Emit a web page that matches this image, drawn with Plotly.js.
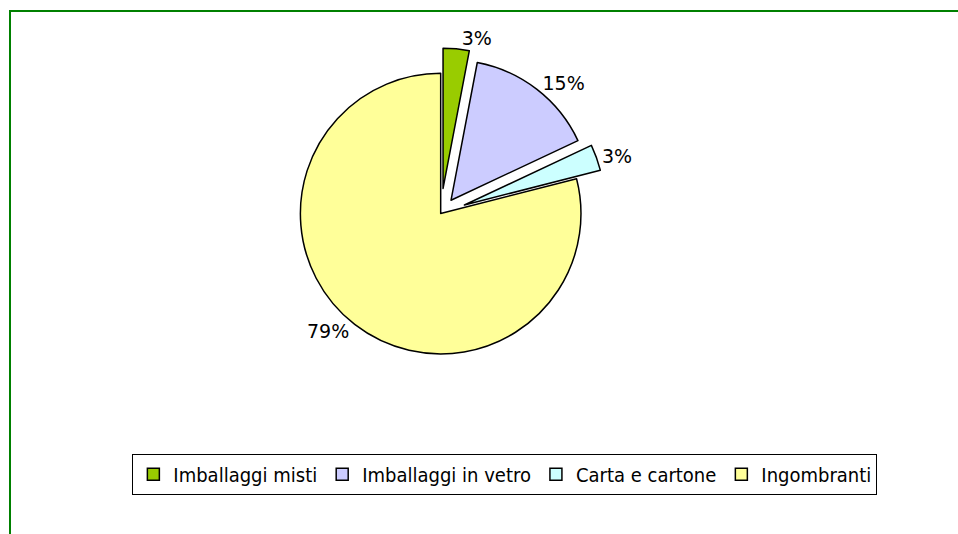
<!DOCTYPE html>
<html>
<head>
<meta charset="utf-8">
<script src="https://cdn.plot.ly/plotly-3.0.1.min.js"></script>
<style>html,body{margin:0;padding:0;background:#fff;}#chart{width:958px;height:534px;}</style>
</head>
<body>
<div id="chart"></div>
<script>
const categories = ["Imballaggi misti", "Imballaggi in vetro", "Carta e cartone", "Ingombranti"];
const values = [3, 15, 3, 79];
const colors = ["#99CC00", "#CCCCFF", "#CCFFFF", "#FFFF99"];
const pulls = [0.18, 0.12, 0.18, 0];

const trace = {
  type: "pie",
  labels: categories,
  values: values,
  sort: false,
  direction: "clockwise",
  rotation: 0,
  pull: pulls,
  marker: { colors: colors, line: { color: "#000000", width: 1.5 } },
  texttemplate: "%{value}%",
  textposition: "outside",
  textfont: { family: "DejaVu Sans, Verdana, sans-serif", size: 19, color: "#000000" },
  hoverinfo: "label+percent",
  domain: { x: [0.22, 0.70], y: [0.29, 0.91] }
};

const layout = {
  width: 958, height: 534,
  margin: { l: 0, r: 0, t: 0, b: 0 },
  paper_bgcolor: "#ffffff",
  showlegend: true,
  legend: {
    orientation: "h",
    x: 0.527, xanchor: "center",
    y: 0.112, yanchor: "middle",
    bordercolor: "#000000", borderwidth: 1, bgcolor: "#ffffff",
    font: { family: "DejaVu Sans Condensed, DejaVu Sans, Verdana, sans-serif", size: 20, color: "#000000" },
    itemwidth: 30,
    traceorder: "normal"
  },
  shapes: [{
    type: "rect", xref: "paper", yref: "paper",
    x0: 10/958, x1: 1.02, y0: -0.02, y1: 1 - 11/534,
    line: { color: "#008000", width: 2 }, fillcolor: "rgba(0,0,0,0)"
  }]
};

Plotly.newPlot("chart", [trace], layout, { displayModeBar: false, staticPlot: true });
</script>
</body>
</html>
